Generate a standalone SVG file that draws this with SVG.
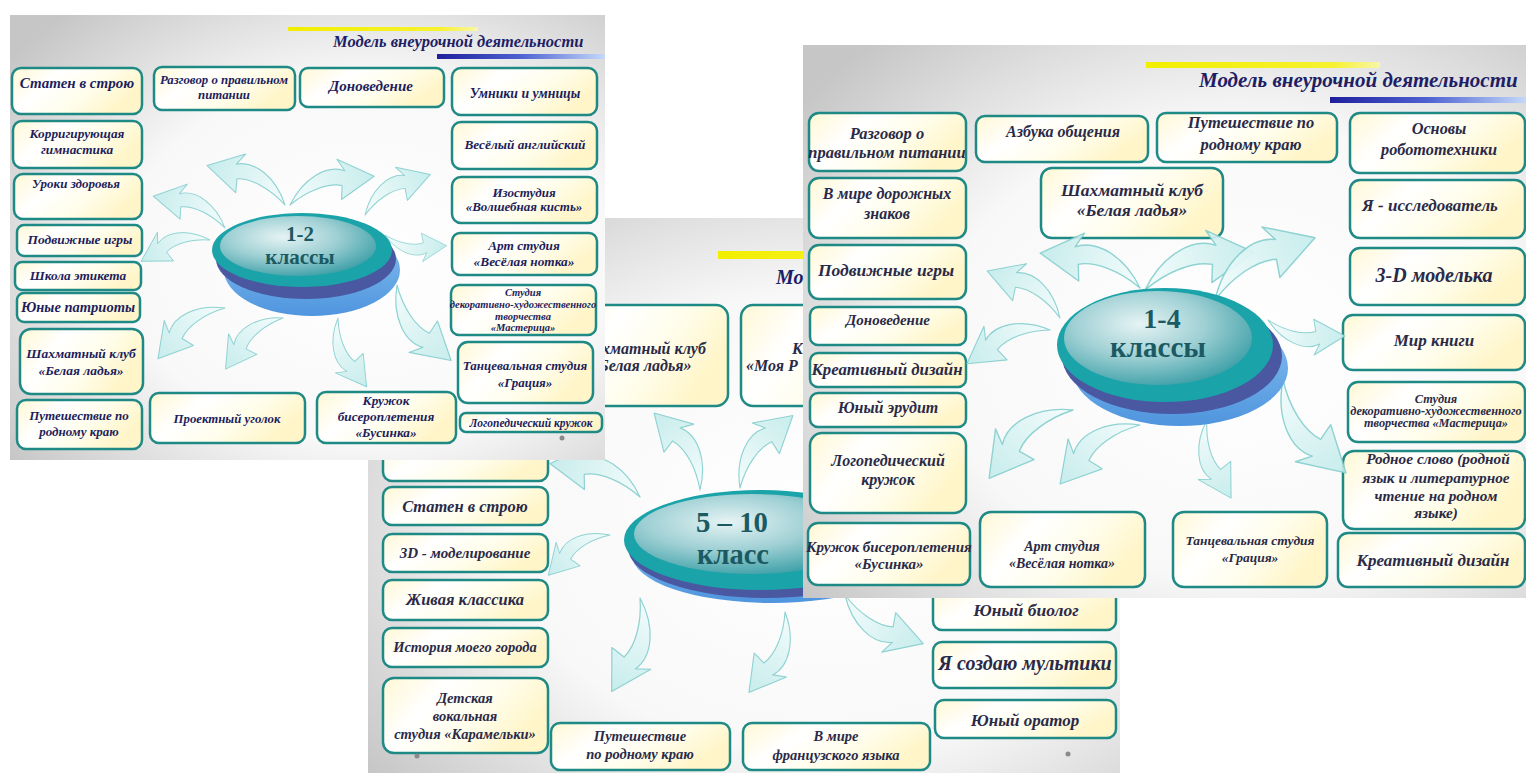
<svg xmlns="http://www.w3.org/2000/svg" xmlns:xlink="http://www.w3.org/1999/xlink" width="1526" height="773" viewBox="0 0 1526 773">
<style>
.bx{fill:url(#boxFill);stroke:#1f8a85;stroke-width:2.5}
.t{font-family:"Liberation Serif","DejaVu Serif",serif;font-style:italic;font-weight:bold;fill:#1d1d5c;text-anchor:middle}
.t2{font-family:"Liberation Serif","DejaVu Serif",serif;font-style:italic;font-weight:bold;fill:#2a2a48;text-anchor:middle}
.ts{font-family:"Liberation Serif","DejaVu Serif",serif;font-style:italic;font-weight:bold;fill:#2a2a48;text-anchor:start}
.ttl{font-family:"Liberation Serif","DejaVu Serif",serif;font-style:italic;font-weight:bold;fill:#1e1e66}
.ct{font-family:"Liberation Serif","DejaVu Serif",serif;font-weight:bold;fill:#1b5a62;text-anchor:middle}
.arr{fill:url(#arrFill);stroke:#86cfcf;stroke-width:1;stroke-linejoin:round;opacity:0.92}
.dot{fill:#8a8a8a}
</style>
<defs>
<linearGradient id="boxFill" x1="0" y1="0" x2="1" y2="0.4">
<stop offset="0" stop-color="#fff8d4"/><stop offset="0.35" stop-color="#ffffff"/><stop offset="0.7" stop-color="#fffde9"/><stop offset="1" stop-color="#fff5c8"/>
</linearGradient>
<radialGradient id="bg" cx="0.6" cy="0.55" r="0.75">
<stop offset="0" stop-color="#ffffff"/><stop offset="0.55" stop-color="#f8f8f8"/><stop offset="1" stop-color="#c6c6c6"/>
</radialGradient>
<linearGradient id="arrFill" x1="0" y1="0" x2="1" y2="0">
<stop offset="0" stop-color="#f4fcfc"/><stop offset="1" stop-color="#c4ecec"/>
</linearGradient>
<linearGradient id="blueLine" x1="0" y1="0" x2="1" y2="0">
<stop offset="0" stop-color="#1f1f9c"/><stop offset="0.5" stop-color="#4e62d2"/><stop offset="1" stop-color="#c4d8fa"/>
</linearGradient>
<linearGradient id="yelLine" x1="0" y1="0" x2="1" y2="0">
<stop offset="0" stop-color="#f2ee00"/><stop offset="0.8" stop-color="#f6f230"/><stop offset="1" stop-color="#f8f6a8"/>
</linearGradient>
<radialGradient id="topIn" cx="0.4" cy="0.35" r="0.7">
<stop offset="0" stop-color="#e6f3f4"/><stop offset="0.5" stop-color="#9fd0d4"/><stop offset="1" stop-color="#3a9ea6"/>
</radialGradient>
<linearGradient id="baseG" x1="0" y1="0" x2="0" y2="1">
<stop offset="0" stop-color="#8cc4f2"/><stop offset="1" stop-color="#4f95de"/>
</linearGradient>
<path id="arr" d="M0,0 C18,-20 42,-26 56,-16 L52,-28 L80,-4 L46,8 L50,-4 C38,-10 18,-8 0,0 Z"/>
</defs>

<rect x="0" y="0" width="1526" height="773" fill="#ffffff"/>

<!-- ============ SLIDE 2 (back) ============ -->
<g id="slide2">
<rect x="368" y="218" width="752" height="555" fill="url(#bg)"/>
<rect x="718" y="251" width="240" height="8" fill="url(#yelLine)"/>
<text class="ttl" x="776" y="284" font-size="20">Мо</text>
<g id="s2-nodes">
<g id="s2-top"><rect class="bx" x="383" y="440" width="165" height="41" rx="9"/></g>
<g id="s2-chess"><rect class="bx" x="555" y="305" width="173" height="101" rx="12"/>
<text class="t2" x="641" y="354" font-size="16">Шахматный клуб</text><text class="t2" x="641" y="371" font-size="16">«Белая ладья»</text></g>
<g id="s2-k"><rect class="bx" x="741" y="305" width="180" height="101" rx="12"/>
<text class="ts" x="792" y="354" font-size="16">К</text><text class="ts" x="746" y="371" font-size="16">«Моя Р</text></g>
<g id="s2-staten"><rect class="bx" x="383" y="487" width="165" height="38" rx="9"/><text class="t2" x="465" y="512" font-size="16.5">Статен в строю</text></g>
<g id="s2-3d"><rect class="bx" x="383" y="534" width="165" height="38" rx="9"/><text class="t2" x="465" y="558" font-size="15">3D - моделирование</text></g>
<g id="s2-zhiv"><rect class="bx" x="383" y="580" width="165" height="40" rx="9"/><text class="t2" x="465" y="605" font-size="16.5">Живая классика</text></g>
<g id="s2-ist"><rect class="bx" x="383" y="628" width="165" height="39" rx="9"/><text class="t2" x="465" y="652" font-size="14.5">История моего города</text></g>
<g id="s2-vok"><rect class="bx" x="383" y="678" width="165" height="75" rx="11"/>
<text class="t2" x="465" y="703" font-size="14.5">Детская</text><text class="t2" x="465" y="721" font-size="14.5">вокальная</text><text class="t2" x="465" y="739" font-size="14.5">студия «Карамельки»</text></g>
<g id="s2-put"><rect class="bx" x="551" y="723" width="179" height="47" rx="9"/>
<text class="t2" x="640" y="741" font-size="14.5">Путешествие</text><text class="t2" x="640" y="759" font-size="14.5">по родному краю</text></g>
<g id="s2-fr"><rect class="bx" x="743" y="723" width="187" height="47" rx="9"/>
<text class="t2" x="836" y="741" font-size="14.5">В мире</text><text class="t2" x="836" y="760" font-size="14.5">французского языка</text></g>
<g id="s2-bio"><rect class="bx" x="933" y="585" width="183" height="45" rx="9"/><text class="t2" x="1026" y="616" font-size="17.5">Юный биолог</text></g>
<g id="s2-mult"><rect class="bx" x="933" y="642" width="183" height="46" rx="9"/><text class="t2" x="1025" y="670" font-size="20">Я создаю мультики</text></g>
<g id="s2-orat"><rect class="bx" x="935" y="700" width="181" height="38" rx="9"/><text class="t2" x="1025" y="726" font-size="17">Юный оратор</text></g>
</g>
<g id="s2-connectors">
<use href="#arr" class="arr" transform="translate(700,490) rotate(-123.7) scale(1.12,-1.12)"/>
<use href="#arr" class="arr" transform="translate(740,488) rotate(-51) scale(1.12)"/>
<use href="#arr" class="arr" transform="translate(640,497) rotate(-162.5) scale(1.2,-1.2)"/>
<use href="#arr" class="arr" transform="translate(610,535) rotate(144) scale(0.92,-0.92)"/>
<use href="#arr" class="arr" transform="translate(640,598) rotate(109.7) scale(1.22)"/>
<use href="#arr" class="arr" transform="translate(785,612) rotate(117) scale(1.1)"/>
<use href="#arr" class="arr" transform="translate(845,595) rotate(29) scale(1.15,-1.15)"/>
</g>
<g id="s2-center">
<ellipse cx="772" cy="555" rx="140" ry="48" fill="url(#baseG)"/>
<ellipse cx="766" cy="548" rx="138" ry="50" fill="#4a58a2"/>
<ellipse cx="760" cy="540" rx="136" ry="50" fill="#1aa3a8"/>
<ellipse cx="752" cy="534" rx="118" ry="40" fill="url(#topIn)"/>
<text class="ct" x="732" y="532" font-size="30" textLength="72" lengthAdjust="spacingAndGlyphs">5 – 10</text>
<text class="ct" x="733" y="564" font-size="30" textLength="72" lengthAdjust="spacingAndGlyphs">класс</text>
</g>
<circle class="dot" cx="417" cy="756" r="2.5"/>
<circle class="dot" cx="1068" cy="754" r="2.5"/>
</g>

<!-- ============ SLIDE 1 ============ -->
<g id="slide1">
<rect x="10" y="15" width="595" height="445" fill="url(#bg)"/>
<rect x="288" y="27" width="190" height="4" fill="url(#yelLine)"/>
<text class="ttl" x="333" y="47" font-size="16.5">Модель внеурочной деятельности</text>
<rect x="437" y="54" width="168" height="5" fill="url(#blueLine)"/>
<g id="s1-nodes">
<g id="s1-staten"><rect class="bx" x="12" y="68" width="130" height="46" rx="9"/><text class="t" x="77" y="88" font-size="15">Статен в строю</text></g>
<g id="s1-razg"><rect class="bx" x="154" y="67" width="141" height="43" rx="8"/><text class="t" x="224" y="84" font-size="12.8">Разговор о правильном</text><text class="t" x="224" y="99" font-size="12.8">питании</text></g>
<g id="s1-dom"><rect class="bx" x="300" y="68" width="144" height="39" rx="8"/><text class="t" x="371" y="91" font-size="15">Доноведение</text></g>
<g id="s1-umn"><rect class="bx" x="452" y="68" width="145" height="47" rx="9"/><text class="t" x="525" y="98" font-size="13.8">Умники и умницы</text></g>
<g id="s1-eng"><rect class="bx" x="452" y="122" width="145" height="47" rx="9"/><text class="t" x="525" y="149" font-size="13.3">Весёлый английский</text></g>
<g id="s1-izo"><rect class="bx" x="452" y="177" width="145" height="46" rx="9"/><text class="t" x="524" y="197" font-size="13">Изостудия</text><text class="t" x="524" y="211" font-size="13">«Волшебная кисть»</text></g>
<g id="s1-art"><rect class="bx" x="452" y="233" width="145" height="42" rx="8"/><text class="t" x="524" y="250" font-size="13.3">Арт студия</text><text class="t" x="524" y="266" font-size="13.3">«Весёлая нотка»</text></g>
<g id="s1-mast"><rect class="bx" x="451" y="285" width="145" height="50" rx="8"/>
<text class="t" x="523" y="296" font-size="10.5">Студия</text><text class="t" x="523" y="308" font-size="10.5">декоративно-художественного</text><text class="t" x="523" y="320" font-size="10.5">творчества</text><text class="t" x="523" y="331" font-size="10.5">«Мастерица»</text></g>
<g id="s1-tanc"><rect class="bx" x="458" y="342" width="135" height="61" rx="10"/><text class="t" x="525" y="370" font-size="13">Танцевальная студия</text><text class="t" x="525" y="387" font-size="13">«Грация»</text></g>
<g id="s1-logo"><rect class="bx" x="460" y="413" width="142" height="19" rx="6"/><text class="t" x="531" y="427" font-size="11.5">Логопедический кружок</text></g>
<g id="s1-bis"><rect class="bx" x="317" y="392" width="139" height="51" rx="9"/><text class="t" x="386" y="405" font-size="13.3">Кружок</text><text class="t" x="386" y="421" font-size="13.3">бисероплетения</text><text class="t" x="386" y="437" font-size="13.3">«Бусинка»</text></g>
<g id="s1-proj"><rect class="bx" x="150" y="393" width="155" height="50" rx="9"/><text class="t" x="227" y="423" font-size="12.8">Проектный уголок</text></g>
<g id="s1-put"><rect class="bx" x="17" y="400" width="125" height="49" rx="9"/><text class="t" x="79" y="420" font-size="13">Путешествие по</text><text class="t" x="79" y="436" font-size="13">родному краю</text></g>
<g id="s1-chess"><rect class="bx" x="20" y="329" width="123" height="65" rx="11"/><text class="t" x="81" y="358" font-size="13.5">Шахматный клуб</text><text class="t" x="81" y="375" font-size="13.5">«Белая ладья»</text></g>
<g id="s1-patr"><rect class="bx" x="17" y="293" width="123" height="29" rx="7"/><text class="t" x="78" y="312" font-size="14.5">Юные патриоты</text></g>
<g id="s1-etik"><rect class="bx" x="15" y="262" width="126" height="28" rx="7"/><text class="t" x="78" y="280" font-size="13.3">Школа этикета</text></g>
<g id="s1-podv"><rect class="bx" x="17" y="225" width="125" height="31" rx="7"/><text class="t" x="80" y="244" font-size="13.5">Подвижные игры</text></g>
<g id="s1-urok"><rect class="bx" x="14" y="174" width="128" height="45" rx="9"/><text class="t" x="76" y="188" font-size="13">Уроки здоровья</text></g>
<g id="s1-korr"><rect class="bx" x="13" y="121" width="129" height="47" rx="9"/><text class="t" x="77" y="138" font-size="13.3">Корригирующая</text><text class="t" x="77" y="154" font-size="13.3">гимнастика</text></g>
</g>
<g id="s1-connectors">
<use href="#arr" class="arr" transform="translate(225,228) rotate(-159) scale(0.98,-0.98)"/>
<use href="#arr" class="arr" transform="translate(285,205) rotate(-156) scale(1.09,-1.09)"/>
<use href="#arr" class="arr" transform="translate(290,205) rotate(-16) scale(1.11)"/>
<use href="#arr" class="arr" transform="translate(365,215) rotate(-29) scale(0.96)"/>
<use href="#arr" class="arr" transform="translate(385,235) rotate(7) scale(0.78,-0.78)"/>
<use href="#arr" class="arr" transform="translate(397,285) rotate(51.5) scale(1.16,-1.16)"/>
<use href="#arr" class="arr" transform="translate(338,318) rotate(64.5) scale(0.93,-0.93)"/>
<use href="#arr" class="arr" transform="translate(283,318) rotate(135.5) scale(0.96,-0.96)"/>
<use href="#arr" class="arr" transform="translate(225,308) rotate(140) scale(1.05,-1.05)"/>
<use href="#arr" class="arr" transform="translate(210,240) rotate(160) scale(0.9,-0.9)"/>
</g>
<g id="s1-center">
<ellipse cx="312" cy="270" rx="88" ry="46" fill="url(#baseG)"/>
<ellipse cx="306" cy="259" rx="90" ry="40" fill="#4a58a2"/>
<ellipse cx="302" cy="250" rx="90" ry="37" fill="#1aa3a8"/>
<ellipse cx="298" cy="246" rx="78" ry="30" fill="url(#topIn)"/>
<text class="ct" x="300" y="241" font-size="21">1-2</text>
<text class="ct" x="300" y="264" font-size="21">классы</text>
</g>
<circle class="dot" cx="562" cy="438" r="2.5"/>
</g>

<!-- ============ SLIDE 3 (front) ============ -->
<g id="slide3">
<rect x="803" y="45" width="723" height="553" fill="url(#bg)"/>
<rect x="1146" y="62" width="234" height="6" fill="url(#yelLine)"/>
<text class="ttl" x="1199" y="87" font-size="21">Модель внеурочной деятельности</text>
<rect x="1330" y="97" width="196" height="6" fill="url(#blueLine)"/>
<g id="s3-nodes">
<g id="s3-razg"><rect class="bx" x="809" y="113" width="157" height="58" rx="10"/><text class="t2" x="887" y="139" font-size="16.5">Разговор о</text><text class="t2" x="887" y="158" font-size="16.5">правильном питании</text></g>
<g id="s3-azb"><rect class="bx" x="976" y="116" width="172" height="46" rx="9"/><text class="t2" x="1063" y="137" font-size="16">Азбука общения</text></g>
<g id="s3-put"><rect class="bx" x="1157" y="113" width="180" height="49" rx="9"/><text class="t2" x="1251" y="128" font-size="16.5">Путешествие по</text><text class="t2" x="1251" y="150" font-size="16.5">родному краю</text></g>
<g id="s3-rob"><rect class="bx" x="1350" y="113" width="175" height="60" rx="10"/><text class="t2" x="1439" y="134" font-size="16.3">Основы</text><text class="t2" x="1439" y="155" font-size="16.3">робототехники</text></g>
<g id="s3-chess"><rect class="bx" x="1041" y="168" width="182" height="70" rx="11"/><text class="t2" x="1132" y="196" font-size="17.5">Шахматный клуб</text><text class="t2" x="1132" y="216" font-size="17.5">«Белая ладья»</text></g>
<g id="s3-dor"><rect class="bx" x="809" y="178" width="157" height="60" rx="10"/><text class="t2" x="887" y="199" font-size="16">В мире дорожных</text><text class="t2" x="887" y="219" font-size="16">знаков</text></g>
<g id="s3-issl"><rect class="bx" x="1350" y="180" width="175" height="58" rx="10"/><text class="t2" x="1430" y="211" font-size="17">Я - исследователь</text></g>
<g id="s3-podv"><rect class="bx" x="809" y="245" width="157" height="54" rx="10"/><text class="t2" x="886" y="276" font-size="17.5">Подвижные игры</text></g>
<g id="s3-3d"><rect class="bx" x="1350" y="248" width="175" height="57" rx="10"/><text class="t2" x="1434" y="282" font-size="20">3-D моделька</text></g>
<g id="s3-dom"><rect class="bx" x="810" y="307" width="156" height="38" rx="8"/><text class="t2" x="888" y="325" font-size="15">Доноведение</text></g>
<g id="s3-kre1"><rect class="bx" x="810" y="353" width="156" height="34" rx="8"/><text class="t2" x="887" y="375" font-size="16.8">Креативный дизайн</text></g>
<g id="s3-erud"><rect class="bx" x="810" y="393" width="156" height="34" rx="8"/><text class="t2" x="888" y="413" font-size="16">Юный эрудит</text></g>
<g id="s3-logo"><rect class="bx" x="810" y="433" width="156" height="80" rx="12"/><text class="t2" x="888" y="466" font-size="16">Логопедический</text><text class="t2" x="888" y="485" font-size="16">кружок</text></g>
<g id="s3-bis"><rect class="bx" x="808" y="523" width="162" height="62" rx="10"/><text class="t2" x="889" y="552" font-size="15">Кружок бисероплетения</text><text class="t2" x="889" y="569" font-size="15">«Бусинка»</text></g>
<g id="s3-art"><rect class="bx" x="980" y="512" width="165" height="75" rx="11"/><text class="t2" x="1062" y="551" font-size="14">Арт студия</text><text class="t2" x="1062" y="568" font-size="14">«Весёлая нотка»</text></g>
<g id="s3-tanc"><rect class="bx" x="1173" y="512" width="154" height="75" rx="11"/><text class="t2" x="1250" y="545" font-size="13.5">Танцевальная студия</text><text class="t2" x="1250" y="562" font-size="13.5">«Грация»</text></g>
<g id="s3-mir"><rect class="bx" x="1343" y="315" width="182" height="55" rx="10"/><text class="t2" x="1434" y="346" font-size="17">Мир книги</text></g>
<g id="s3-mast"><rect class="bx" x="1348" y="382" width="177" height="60" rx="10"/><text class="t2" x="1436" y="403" font-size="12.3">Студия</text><text class="t2" x="1436" y="415" font-size="12.3">декоративно-художественного</text><text class="t2" x="1436" y="427" font-size="12.3">творчества «Мастерица»</text></g>
<g id="s3-rod"><rect class="bx" x="1343" y="451" width="182" height="78" rx="11"/><text class="t2" x="1438" y="464" font-size="15.3">Родное слово (родной</text><text class="t2" x="1436" y="483" font-size="15.3">язык и литературное</text><text class="t2" x="1436" y="501" font-size="15.3">чтение на родном</text><text class="t2" x="1436" y="518" font-size="15.3">языке)</text></g>
<g id="s3-kre2"><rect class="bx" x="1338" y="533" width="187" height="54" rx="10"/><text class="t2" x="1433" y="566" font-size="17">Креативный дизайн</text></g>
</g>
<g id="s3-connectors">
<use href="#arr" class="arr" transform="translate(1140,288) rotate(-163.6) scale(1.32,-1.32)"/>
<use href="#arr" class="arr" transform="translate(1060,318) rotate(-150) scale(1.08,-1.08)"/>
<use href="#arr" class="arr" transform="translate(1145,290) rotate(-16.2) scale(1.44)"/>
<use href="#arr" class="arr" transform="translate(1215,300) rotate(-29) scale(1.47)"/>
<use href="#arr" class="arr" transform="translate(1268,320) rotate(8.9) scale(0.98,-0.98)"/>
<use href="#arr" class="arr" transform="translate(1283,380) rotate(53) scale(1.4,-1.4)"/>
<use href="#arr" class="arr" transform="translate(1207,420) rotate(70) scale(1.02,-1.02)"/>
<use href="#arr" class="arr" transform="translate(1073,410) rotate(138) scale(1.35,-1.35)"/>
<use href="#arr" class="arr" transform="translate(1140,425) rotate(140.7) scale(1.24,-1.24)"/>
<use href="#arr" class="arr" transform="translate(1050,330) rotate(155) scale(1.12,-1.12)"/>
</g>
<g id="s3-center">
<ellipse cx="1180" cy="368" rx="108" ry="58" fill="url(#baseG)"/>
<ellipse cx="1172" cy="356" rx="110" ry="58" fill="#4a58a2"/>
<ellipse cx="1165" cy="345" rx="108" ry="57" fill="#1aa3a8"/>
<ellipse cx="1158" cy="338" rx="94" ry="47" fill="url(#topIn)"/>
<text class="ct" x="1162" y="328" font-size="28">1-4</text>
<text class="ct" x="1158" y="357" font-size="29">классы</text>
</g>
</g>
</svg>
